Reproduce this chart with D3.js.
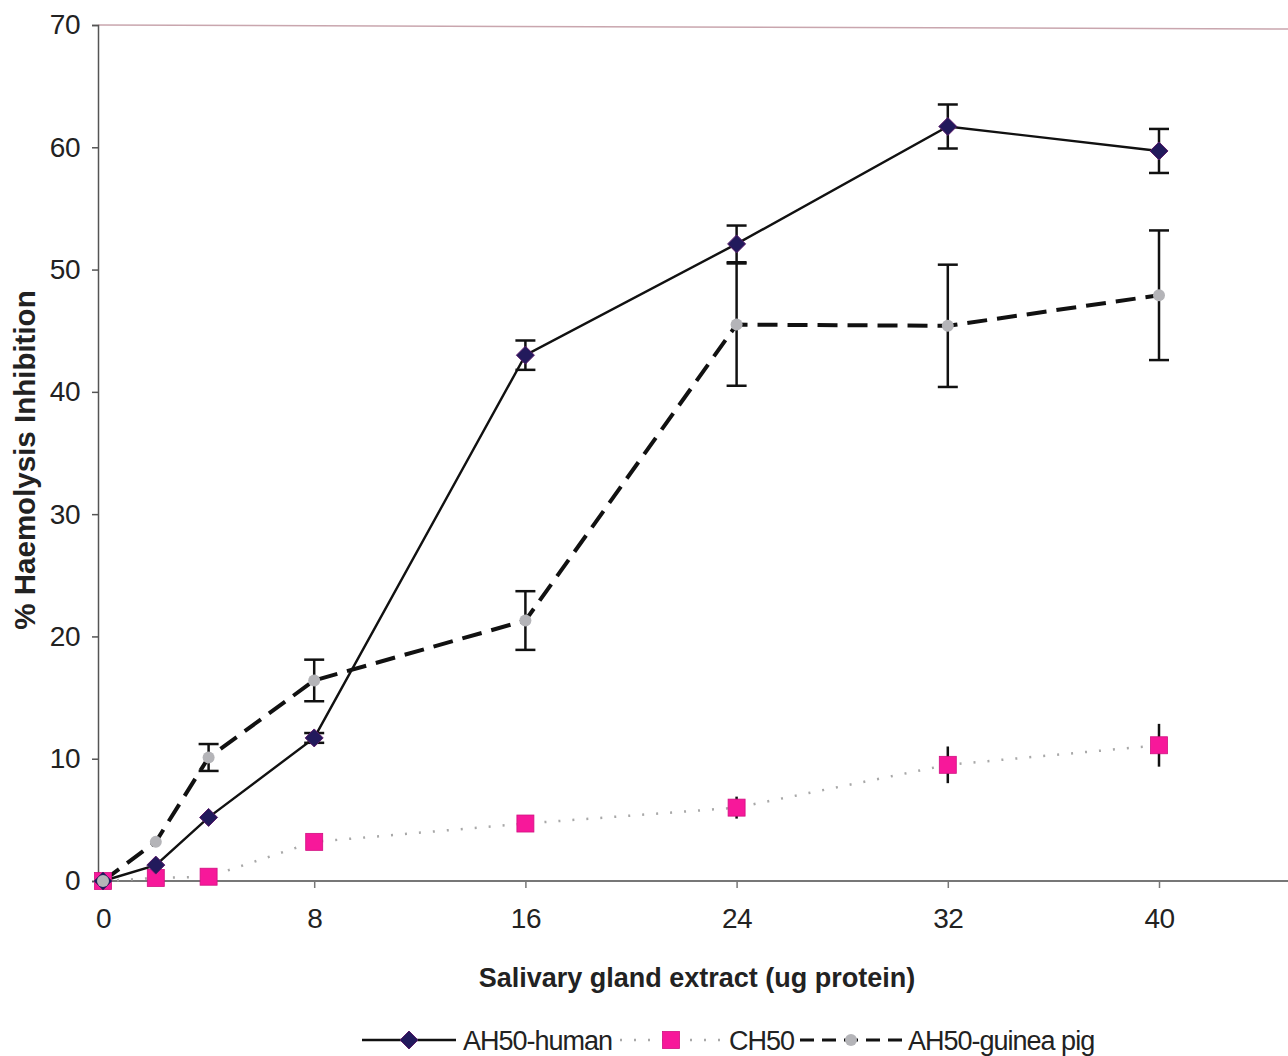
<!DOCTYPE html>
<html>
<head>
<meta charset="utf-8">
<script src="https://cdn.jsdelivr.net/npm/d3@7"></script>
<style>
  body { margin: 0; background: #fff; }
  text { font-family: "Liberation Sans", Arial, sans-serif; fill: #222; }
</style>
</head>
<body>
<div id="chart"></div>
<script>
// doses (ug protein)
var doses = [0, 2, 4, 8, 16, 24, 32, 40];
var xTicks = [0, 8, 16, 24, 32, 40];
var yTicks = [0, 10, 20, 30, 40, 50, 60, 70];

var human = [0, 1.3, 5.2, 11.7, 43.0, 52.1, 61.7, 59.7];
var humanErr = [0, 0, 0, 0.4, 1.2, 1.5, 1.8, 1.8];

var ch50 = [0, 0.25, 0.35, 3.2, 4.7, 6.0, 9.5, 11.1];
var ch50Err = [0, 0, 0, 0, 0, 0.9, 1.5, 1.75];

var guinea = [0, 3.2, 10.1, 16.4, 21.3, 45.5, 45.4, 47.9];
var guineaErr = [0, 0, 1.1, 1.7, 2.4, 5.0, 5.0, 5.3];

var legendLabels = ["AH50-human", "CH50", "AH50-guinea pig"];

var W = 1288, H = 1056;
var svg = d3.select('#chart').append('svg')
  .attr('width', W)
  .attr('height', H);

var x = d3.scaleLinear().domain([0, 40]).range([103, 1159]);
var y = d3.scaleLinear().domain([0, 70]).range([881, 25]);

// frame: top border and left axis
svg.append('line')
  .attr('x1', 98).attr('x2', W).attr('y1', y(70)).attr('y2', y(70) + 4)
  .style('stroke', '#c9a6ae').style('stroke-width', 1.5);

var yAxis = svg.append('g')
  .attr('transform', 'translate(98,0)')
  .call(d3.axisLeft(y).tickValues(yTicks).tickSize(6).tickPadding(12).tickFormat(d3.format('d')));
yAxis.select('.domain').style('stroke', '#555').style('stroke-width', 1.5);
yAxis.selectAll('.tick line').style('stroke', '#555').style('stroke-width', 1.5);
yAxis.selectAll('.tick text')
  .style('font-size', '28px').style('letter-spacing', '-0.5px').style('fill', '#222');

// x axis line spans the full width
svg.append('line')
  .attr('x1', 98).attr('x2', W).attr('y1', y(0)).attr('y2', y(0))
  .style('stroke', '#777').style('stroke-width', 2);

var xAxis = svg.append('g')
  .attr('transform', 'translate(0,' + y(0) + ')')
  .call(d3.axisBottom(x).tickValues(xTicks).tickSize(7).tickPadding(20).tickFormat(d3.format('d')));
xAxis.select('.domain').remove();
xAxis.selectAll('.tick line').style('stroke', '#777').style('stroke-width', 1.5);
xAxis.selectAll('.tick text')
  .style('font-size', '28px').style('letter-spacing', '-0.5px').style('fill', '#222');

// axis titles
svg.append('text')
  .attr('x', 697).attr('y', 987)
  .attr('text-anchor', 'middle')
  .style('font-size', '27px').style('font-weight', 'bold')
  .text('Salivary gland extract (ug protein)');

svg.append('text')
  .attr('transform', 'translate(35,460) rotate(-90)')
  .attr('text-anchor', 'middle')
  .style('font-size', '29.5px').style('font-weight', 'bold')
  .text('% Haemolysis Inhibition');

function pts(vals, errs) {
  return doses.map(function (d, i) { return { x: d, v: vals[i], e: errs[i] }; });
}

var series = [
  { name: 'human', data: pts(human, humanErr), stroke: '#111', width: 2.4, dash: null, marker: 'diamond' },
  { name: 'ch50', data: pts(ch50, ch50Err), stroke: '#a8a8a8', width: 2.5, dash: '2,12', marker: 'square' },
  { name: 'guinea', data: pts(guinea, guineaErr), stroke: '#111', width: 4, dash: '20,10', marker: 'circle' }
];

var line = d3.line()
  .x(function (d) { return x(d.x); })
  .y(function (d) { return y(d.v); });

// draw lines
series.forEach(function (s) {
  svg.append('path')
    .datum(s.data)
    .attr('d', line)
    .style('fill', 'none')
    .style('stroke', s.stroke)
    .style('stroke-width', s.width)
    .style('stroke-dasharray', s.dash);
});

// error bars
series.forEach(function (s) {
  var g = svg.append('g').attr('class', 'err-' + s.name);
  var bars = s.data.filter(function (d) { return d.e > 0; });
  var capW = s.name === 'ch50' ? 0 : 10;
  g.selectAll('line.v').data(bars).enter().append('line')
    .attr('x1', function (d) { return x(d.x); })
    .attr('x2', function (d) { return x(d.x); })
    .attr('y1', function (d) { return y(d.v + d.e); })
    .attr('y2', function (d) { return y(d.v - d.e); })
    .style('stroke', '#111').style('stroke-width', 2.5);
  if (capW > 0) {
    [1, -1].forEach(function (sign) {
      g.selectAll('line.cap' + sign).data(bars).enter().append('line')
        .attr('x1', function (d) { return x(d.x) - capW; })
        .attr('x2', function (d) { return x(d.x) + capW; })
        .attr('y1', function (d) { return y(d.v + sign * d.e); })
        .attr('y2', function (d) { return y(d.v + sign * d.e); })
        .style('stroke', '#111').style('stroke-width', 2.5);
    });
  }
});

function drawMarker(g, type, cx, cy) {
  if (type === 'diamond') {
    g.append('path')
      .attr('d', 'M' + cx + ',' + (cy - 9) + 'L' + (cx + 9) + ',' + cy + 'L' + cx + ',' + (cy + 9) + 'L' + (cx - 9) + ',' + cy + 'Z')
      .style('fill', '#221a5c').style('stroke', '#5a1a6a').style('stroke-width', 1);
  } else if (type === 'square') {
    g.append('rect')
      .attr('x', cx - 8.5).attr('y', cy - 8.5).attr('width', 17).attr('height', 17)
      .style('fill', '#f7189a').style('stroke', '#d01080').style('stroke-width', 0.8);
  } else {
    g.append('circle')
      .attr('cx', cx).attr('cy', cy).attr('r', 6)
      .style('fill', '#b4b4b8');
  }
}

// markers: draw ch50 first, then human, then guinea on top
[series[1], series[0], series[2]].forEach(function (s) {
  var g = svg.append('g').attr('class', 'pts-' + s.name);
  s.data.forEach(function (d) { drawMarker(g, s.marker, x(d.x), y(d.v)); });
});

// legend
var legend = svg.append('g').attr('class', 'legend');
var legendItems = [
  { label: legendLabels[0], s: series[0], x0: 362, x1: 456, tx: 463 },
  { label: legendLabels[1], s: series[1], x0: 620, x1: 722, tx: 729 },
  { label: legendLabels[2], s: series[2], x0: 800, x1: 902, tx: 908 }
];
var ly = 1040;
legendItems.forEach(function (it) {
  legend.append('line')
    .attr('x1', it.x0).attr('x2', it.x1).attr('y1', ly).attr('y2', ly)
    .style('stroke', it.s.stroke)
    .style('stroke-width', it.s.name === 'guinea' ? 3 : it.s.width)
    .style('stroke-dasharray', it.s.name === 'guinea' ? '14,8' : it.s.dash);
  drawMarker(legend, it.s.marker, (it.x0 + it.x1) / 2, ly);
  legend.append('text')
    .attr('x', it.tx).attr('y', ly + 10)
    .style('font-size', '27px').style('letter-spacing', '-1px')
    .text(it.label);
});
</script>
</body>
</html>
